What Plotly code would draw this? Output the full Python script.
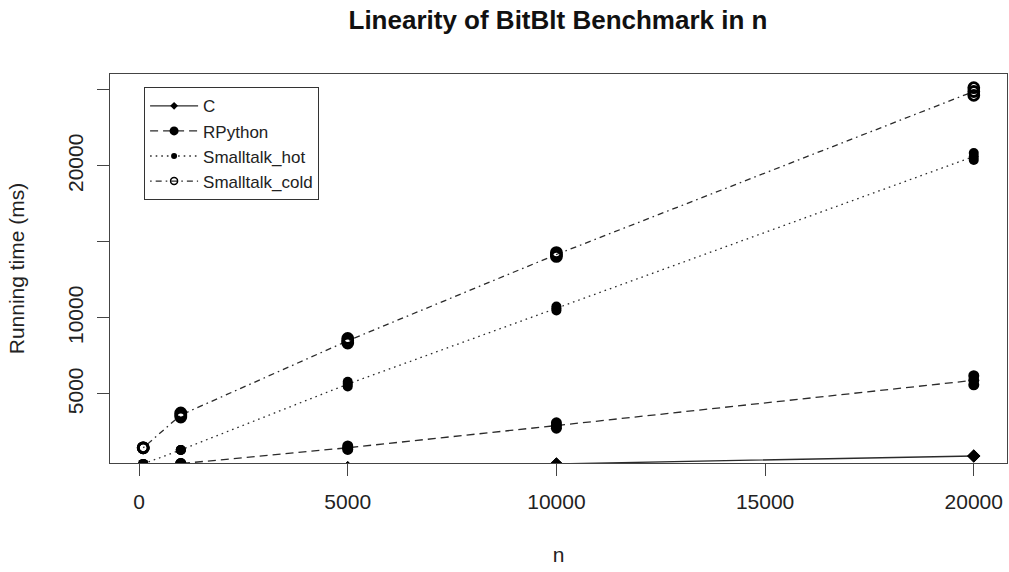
import numpy as np
import plotly.graph_objects as go

# ---- data ----
n = [100, 1000, 5000, 10000, 20000]

c_run1 = [20, 40, 150, 400, 921]
c_run2 = [20, 40, 150, 400, 921]
c_run3 = [20, 40, 150, 400, 921]

rpython_run1 = [150, 420, 1350, 2750, 5600]
rpython_run2 = [150, 420, 1460, 2920, 5900]
rpython_run3 = [150, 420, 1580, 3100, 6200]

hot_run1 = [400, 1320, 5500, 10500, 20400]
hot_run2 = [400, 1320, 5650, 10620, 20620]
hot_run3 = [400, 1320, 5800, 10750, 20850]

cold_run1 = [1460, 3480, 8350, 14050, 24650]
cold_run2 = [1460, 3620, 8500, 14180, 24900]
cold_run3 = [1460, 3750, 8650, 14300, 25150]

series_names = ["C", "RPython", "Smalltalk_hot", "Smalltalk_cold"]

x_ticks = [0, 5000, 10000, 15000, 20000]
y_ticks = [5000, 10000, 15000, 20000, 25000]
y_tick_text = ["5000", "10000", "", "20000", ""]

FONT = "Liberation Sans, Arial, Helvetica, sans-serif"
LINE_COL = "#2b2b2b"

styles = {
    "C": dict(dash="solid", symbol="diamond", size=10, lsize=6),
    "RPython": dict(dash="8px,5px", symbol="circle", size=11, lsize=9),
    "Smalltalk_hot": dict(dash="1.6px,4px", symbol="circle", size=10, lsize=6),
    "Smalltalk_cold": dict(dash="1.6px,4px,6px,4px", symbol="circle-open", size=10, lsize=7),
}

runs = {
    "C": [c_run1, c_run2, c_run3],
    "RPython": [rpython_run1, rpython_run2, rpython_run3],
    "Smalltalk_hot": [hot_run1, hot_run2, hot_run3],
    "Smalltalk_cold": [cold_run1, cold_run2, cold_run3],
}

fig = go.Figure()

for name in series_names:
    st = styles[name]
    rr = np.array(runs[name], dtype=float)
    mean_vals = rr.mean(axis=0)
    fig.add_trace(go.Scatter(
        x=n, y=mean_vals, mode="lines", showlegend=False, hoverinfo="skip",
        line=dict(color=LINE_COL, width=1.3, dash=st["dash"]),
    ))
    for r in runs[name]:
        fig.add_trace(go.Scatter(
            x=n, y=r, mode="markers", showlegend=False, name=name,
            marker=dict(symbol=st["symbol"], size=st["size"], color="black",
                        line=dict(color="black", width=2.8 if "open" in st["symbol"] else 0)),
            cliponaxis=True,
        ))

# legend-only entries
for name in series_names:
    st = styles[name]
    fig.add_trace(go.Scatter(
        x=[None], y=[None], mode="lines+markers", name=name,
        line=dict(color=LINE_COL, width=1.3, dash=st["dash"]),
        marker=dict(symbol=st["symbol"], size=st["lsize"], color="black",
                    line=dict(color="black", width=1.5 if "open" in st["symbol"] else 0)),
    ))

axis_common = dict(
    showline=True, linecolor="#444", linewidth=1, mirror=True,
    ticks="outside", ticklen=12, tickcolor="#444", tickwidth=1,
    showgrid=False, zeroline=False, automargin=False,
    tickfont=dict(family=FONT, size=21, color="#222"),
)

fig.update_layout(
    width=1009, height=572,
    paper_bgcolor="white", plot_bgcolor="white",
    margin=dict(l=110, r=2, t=74, b=109, autoexpand=False),
    font=dict(family=FONT, color="#222"),
    title=dict(text="Linearity of BitBlt Benchmark in n", x=0.553, xanchor="center",
               y=1 - 20 / 572, yanchor="middle", yref="container", automargin=False,
               font=dict(family=FONT, size=26, weight="bold", color="#111")),
    xaxis=dict(range=[-696, 20796], tickmode="array", tickvals=x_ticks,
               ticktext=[str(v) for v in x_ticks], ticklabelstandoff=8,
               title=dict(text="n", font=dict(family=FONT, size=21, color="#222"), standoff=35),
               **axis_common),
    yaxis=dict(range=[460, 26050], tickmode="array", tickvals=y_ticks, ticktext=y_tick_text,
               tickangle=-90, ticklabelstandoff=6,
               title=dict(text="Running time (ms)", font=dict(family=FONT, size=21, color="#222"), standoff=33),
               **axis_common),
    legend=dict(x=0.038, y=0.966, xanchor="left", yanchor="top",
                bordercolor="#333", borderwidth=1, bgcolor="white",
                font=dict(family=FONT, size=17, color="#222"),
                tracegroupgap=0, itemwidth=48),
    showlegend=True,
)

fig.write_html(
    "out.html",
    config={"displayModeBar": False},
    post_script="document.body.style.margin='0';document.body.style.overflow='hidden';",
)
